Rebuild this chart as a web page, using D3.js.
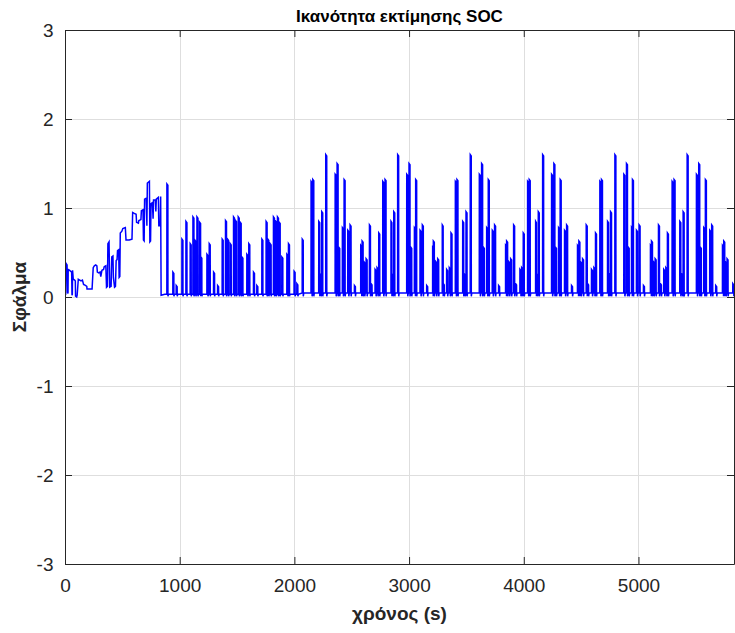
<!DOCTYPE html>
<html>
<head>
<meta charset="utf-8">
<script src="https://cdn.jsdelivr.net/npm/d3@7"></script>
<style>
  html, body { margin: 0; padding: 0; background: #ffffff; }
  svg { display: block; font-family: "Liberation Sans", Arial, Helvetica, sans-serif; }
</style>
</head>
<body>
<svg id="chart" width="735" height="633"></svg>
<script>
// ---- text ----
const titleText = "Ικανότητα εκτίμησης SOC";
const xLabelText = "χρόνος (s)";
const yLabelText = "Σφάλμα";

// ---- axes ----
const xTicks = [0, 1000, 2000, 3000, 4000, 5000];
const yTicks = [-3, -2, -1, 0, 1, 2, 3];
const xDomain = [0, 5833];
const yDomain = [-3, 3];

// ---- start-up transient: polyline vertices ----
const startT = [0, 6, 8, 18, 22, 26, 28, 40, 48, 58, 61, 64, 66, 72, 84, 90, 92, 102, 106, 116,
  128, 140, 152, 162, 178, 190, 192, 214, 236, 246, 256, 268, 278, 282, 294, 306, 312, 322, 336, 342,
  356, 362, 370, 374, 384, 390, 402, 408, 418, 422, 432, 440, 446, 454, 458, 468, 472, 478, 482, 496,
  504, 526, 532, 560, 584, 590, 604, 620, 624, 640, 644, 662, 666, 680, 684, 690, 694, 708, 714, 718,
  736, 740, 746, 750, 762, 768, 772, 788, 792, 796, 814, 818, 830, 834, 838, 870];
const startV = [0.02, 0.03, 0.38, 0.36, 0.05, 0.04, 0.31, 0.30, 0.29, 0.28, 0.02, 0.03, 0.30, 0.20, 0.19, 0.18, 0.01, 0.00, 0.02, 0.20,
  0.19, 0.18, 0.19, 0.14, 0.13, 0.12, 0.09, 0.09, 0.09, 0.33, 0.35, 0.36, 0.35, 0.28, 0.27, 0.28, 0.23, 0.30, 0.31, 0.34,
  0.35, 0.11, 0.12, 0.60, 0.62, 0.11, 0.12, 0.45, 0.46, 0.22, 0.11, 0.12, 0.41, 0.42, 0.52, 0.53, 0.22, 0.23, 0.72, 0.74,
  0.77, 0.78, 0.64, 0.64, 0.65, 0.95, 0.94, 0.93, 0.84, 0.83, 0.86, 0.87, 0.97, 0.98, 0.64, 0.63, 1.10, 1.11, 0.80, 1.28,
  1.30, 0.62, 0.63, 1.05, 1.06, 0.88, 1.09, 1.09, 0.96, 1.10, 1.12, 0.80, 0.80, 1.13, 0.02, 0.03];

// ---- pulses after the transient: onset time (s) and peak error ----
const pulseT = [
  888, 940, 969, 1019, 1054, 1091, 1115, 1132, 1150, 1173, 1184, 1237, 1257, 1295, 1330,
  1370, 1399, 1417, 1440, 1469, 1486, 1510, 1527, 1542, 1585, 1602, 1643, 1672,
  1716, 1753, 1768, 1788, 1817, 1832, 1852, 1867, 1890, 1934, 1948, 1997, 2021, 2068,
  2145, 2160, 2212, 2224, 2238, 2273, 2355, 2372, 2386, 2418, 2433, 2465, 2485, 2523,
  2578, 2590, 2604, 2625, 2654, 2668, 2703, 2720, 2735,
  2770, 2790, 2842, 2851, 2866, 2900, 2979, 2999, 3014, 3046, 3057, 3095, 3115, 3153,
  3205, 3211, 3231, 3249, 3289, 3298, 3327, 3350, 3365,
  3403, 3417, 3467, 3481, 3496, 3533, 3612, 3632, 3647, 3676, 3690, 3725, 3745, 3780,
  3841, 3850, 3867, 3885, 3911, 3928, 3966, 3981, 3995,
  4033, 4047, 4103, 4111, 4126, 4164, 4242, 4262, 4276, 4303, 4317, 4355, 4373, 4416,
  4468, 4480, 4492, 4512, 4544, 4556, 4590, 4611, 4625,
  4663, 4677, 4730, 4744, 4756, 4794, 4872, 4895, 4910, 4939, 4947, 4982, 5005, 5043,
  5104, 5113, 5128, 5145, 5174, 5191, 5220, 5238, 5252,
  5293, 5310, 5360, 5376, 5389, 5424, 5505, 5525, 5539, 5569, 5583, 5621, 5638, 5673,
  5732, 5743, 5755, 5772, 5822];
const pulseV = [
  1.27, 0.28, 0.13, 0.65, 0.85, 0.60, 0.90, 0.64, 0.90, 0.84, 0.45, 0.48, 0.60, 0.28, 0.13,
  0.65, 0.86, 0.65, 0.60, 0.90, 0.86, 0.90, 0.84, 0.45, 0.48, 0.60, 0.28, 0.13,
  0.65, 0.85, 0.65, 0.60, 0.90, 0.86, 0.90, 0.84, 0.45, 0.48, 0.60, 0.29, 0.15, 0.65,
  1.30, 1.32, 0.85, 0.26, 0.96, 1.60, 1.38, 1.50, 0.56, 0.78, 1.32, 0.75, 0.81, 0.13,
  0.58, 0.63, 0.40, 0.43, 0.81, 0.15, 0.31, 0.33, 0.72,
  1.30, 1.32, 0.85, 0.26, 0.96, 1.60, 1.38, 1.50, 0.56, 0.78, 1.32, 0.75, 0.81, 0.13,
  0.58, 0.63, 0.40, 0.43, 0.81, 0.15, 0.31, 0.33, 0.72,
  1.30, 1.32, 0.85, 0.26, 0.96, 1.60, 1.38, 1.50, 0.56, 0.78, 1.32, 0.75, 0.81, 0.13,
  0.58, 0.63, 0.40, 0.43, 0.81, 0.15, 0.31, 0.33, 0.72,
  1.30, 1.32, 0.85, 0.26, 0.96, 1.60, 1.38, 1.50, 0.56, 0.78, 1.32, 0.75, 0.81, 0.13,
  0.58, 0.63, 0.40, 0.43, 0.81, 0.15, 0.31, 0.33, 0.72,
  1.30, 1.32, 0.85, 0.26, 0.96, 1.60, 1.38, 1.50, 0.56, 0.78, 1.32, 0.75, 0.81, 0.13,
  0.58, 0.63, 0.40, 0.43, 0.81, 0.15, 0.31, 0.33, 0.72,
  1.30, 1.32, 0.85, 0.26, 0.96, 1.60, 1.38, 1.50, 0.56, 0.78, 1.32, 0.75, 0.81, 0.13,
  0.58, 0.63, 0.40, 0.43, 0.15];

// resting error level between pulses
const restT = [870, 2050];
const restV = [0.03, 0.045];
const dipV = 0.008;

// ---- layout ----
const plot = { left: 65, right: 734, top: 30, bottom: 564 };
const ink = "#262626";
const gridColor = "#dedede";

const svg = d3.select("#chart");
const x = d3.scaleLinear().domain(xDomain).range([plot.left, plot.right]);
const y = d3.scaleLinear().domain(yDomain).range([plot.bottom, plot.top]);

// grid
const grid = svg.append("g").attr("shape-rendering", "crispEdges");
grid.selectAll(".gx").data(xTicks.slice(1)).join("line")
  .attr("x1", d => Math.round(x(d)) + 0.5).attr("x2", d => Math.round(x(d)) + 0.5)
  .attr("y1", plot.top).attr("y2", plot.bottom)
  .attr("stroke", gridColor).attr("stroke-width", 1);
grid.selectAll(".gy").data(yTicks.slice(1, -1)).join("line")
  .attr("x1", plot.left).attr("x2", plot.right)
  .attr("y1", d => Math.round(y(d)) + 0.5).attr("y2", d => Math.round(y(d)) + 0.5)
  .attr("stroke", gridColor).attr("stroke-width", 1);

// series vertices
function restAt(t) {
  let v = restV[0];
  restT.forEach((rt, i) => { if (t >= rt) v = restV[i]; });
  return v;
}
const pts = startT.map((t, i) => [t, startV[i]]);
pulseT.forEach((t, i) => {
  const base = restAt(t);
  const next = i + 1 < pulseT.length ? pulseT[i + 1] : xDomain[1];
  const top = Math.min(9, next - t - 1);
  pts.push([t, base], [t + 0.5, pulseV[i]], [t + top, pulseV[i] - 0.015], [t + top + 0.5, dipV]);
  if (t + top + 5 < next) pts.push([t + top + 5, base]);
});
pts.push([xDomain[1], restAt(xDomain[1])]);

svg.append("clipPath").attr("id", "plotclip")
  .append("rect").attr("x", plot.left).attr("y", plot.top)
  .attr("width", plot.right - plot.left).attr("height", plot.bottom - plot.top);

const line = d3.line().x(d => x(d[0])).y(d => y(d[1]));
svg.append("path")
  .datum(pts)
  .attr("clip-path", "url(#plotclip)")
  .attr("d", line)
  .attr("fill", "none")
  .attr("stroke", "#0000ff")
  .attr("stroke-width", 1.5)
  .attr("stroke-linejoin", "miter");

// axes (ticks point inward, box closed on all sides)
function styleAxis(g) {
  g.select(".domain").attr("stroke", ink).attr("stroke-width", 1);
  g.selectAll(".tick line").attr("stroke", ink).attr("stroke-width", 1);
  g.selectAll(".tick text").attr("fill", ink).attr("font-size", "19px")
    .attr("font-family", "'Liberation Sans', Arial, Helvetica, sans-serif");
}
svg.append("g").attr("transform", `translate(0,${plot.bottom})`)
  .call(d3.axisBottom(x).tickValues(xTicks).tickFormat(d3.format("d")).tickSize(-7).tickSizeOuter(0).tickPadding(15))
  .call(styleAxis);
svg.append("g").attr("transform", `translate(0,${plot.top})`)
  .call(d3.axisTop(x).tickValues(xTicks).tickFormat("").tickSize(-7).tickSizeOuter(0))
  .call(styleAxis);
svg.append("g").attr("transform", `translate(${plot.left},0)`)
  .call(d3.axisLeft(y).tickValues(yTicks).tickFormat(d => String(d)).tickSize(-7).tickSizeOuter(0).tickPadding(11.5))
  .call(styleAxis);
svg.append("g").attr("transform", `translate(${plot.right},0)`)
  .call(d3.axisRight(y).tickValues(yTicks).tickFormat("").tickSize(-7).tickSizeOuter(0))
  .call(styleAxis);

// title and axis labels
const cx = (plot.left + plot.right) / 2;
svg.append("text").attr("x", cx).attr("y", 22)
  .attr("text-anchor", "middle").attr("font-weight", "bold").attr("font-size", "17px")
  .attr("fill", "#000").text(titleText);
svg.append("text").attr("x", cx).attr("y", 620)
  .attr("text-anchor", "middle").attr("font-weight", "bold").attr("font-size", "19px")
  .attr("fill", ink).text(xLabelText);
svg.append("text").attr("transform", `translate(25.5,${(plot.top + plot.bottom) / 2}) rotate(-90)`)
  .attr("text-anchor", "middle").attr("font-weight", "bold").attr("font-size", "19px")
  .attr("fill", ink).text(yLabelText);
</script>
</body>
</html>
